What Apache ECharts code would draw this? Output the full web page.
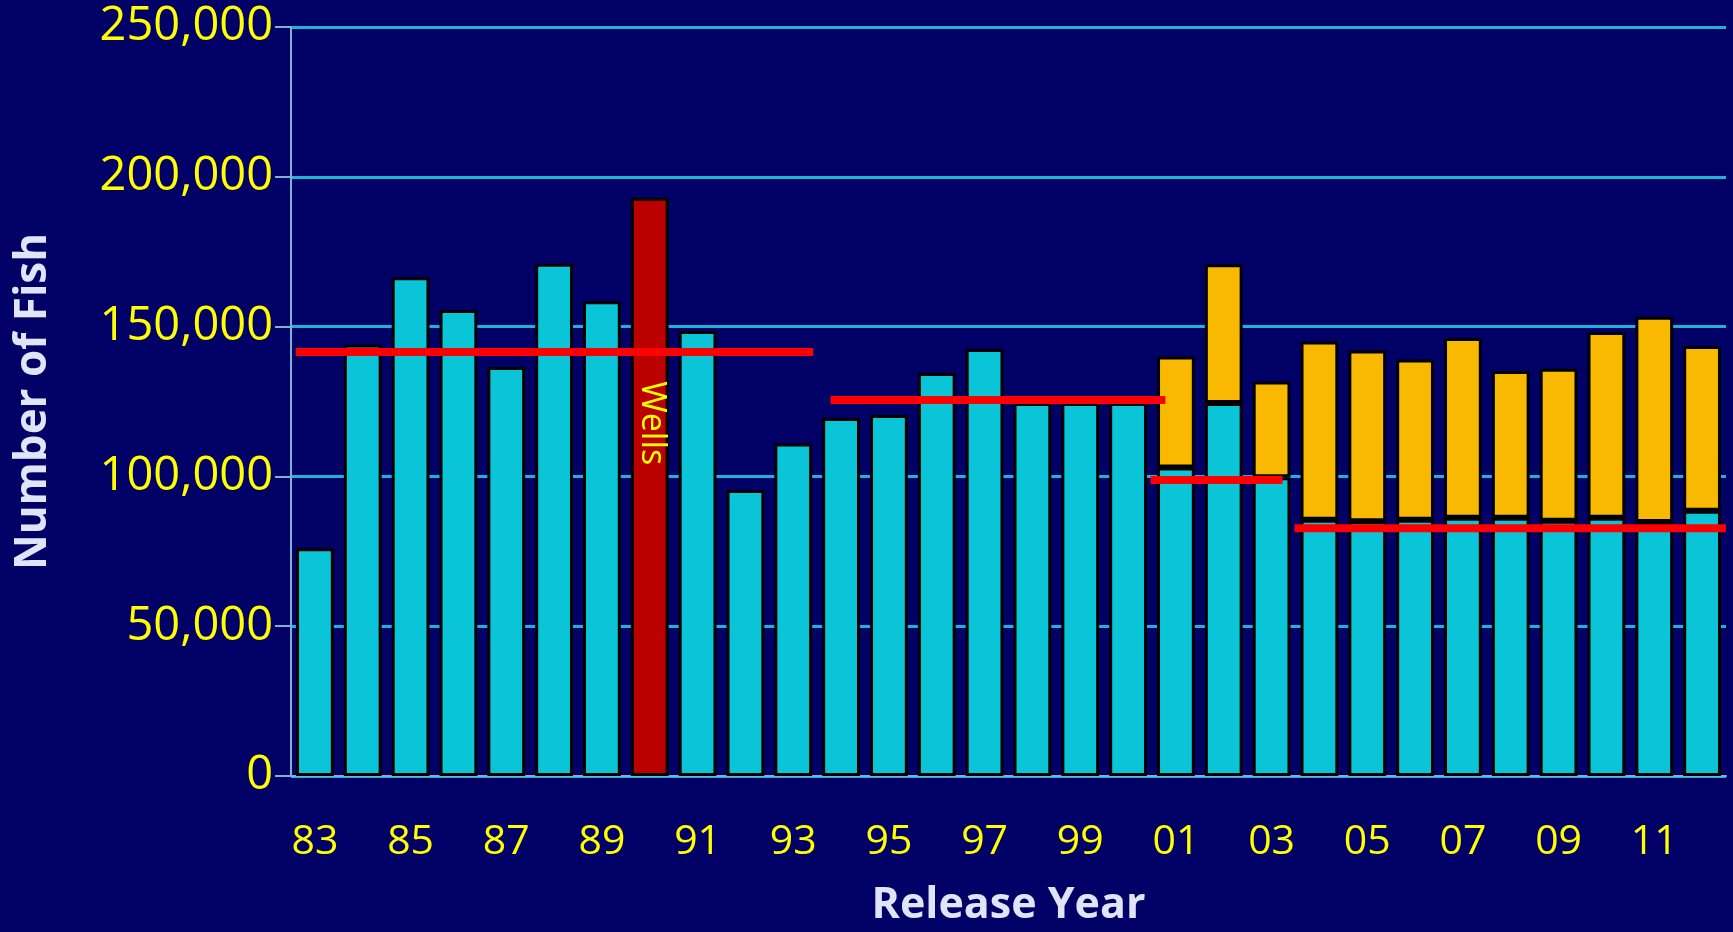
<!DOCTYPE html>
<html>
<head>
<meta charset="utf-8">
<title>Release Year</title>
<script src="https://cdn.jsdelivr.net/npm/echarts@6/dist/echarts.min.js"></script>
<style>
  html, body { margin: 0; padding: 0; background: #000066; }
  #chart { width: 1733px; height: 932px; }
</style>
</head>
<body>
<div id="chart"></div>
<script>
  // release years (two digit)
  let years = ['83', '84', '85', '86', '87', '88', '89', '90', '91', '92',
    '93', '94', '95', '96', '97', '98', '99', '00', '01', '02',
    '03', '04', '05', '06', '07', '08', '09', '10', '11', '12']
  // lower (cyan) part of each bar
  let baseFish = [76000, 144000, 166500, 155500, 136500, 171000, 158500, 193000, 148500, 95500,
    111000, 119500, 120500, 134500, 142500, 124500, 124500, 124500, 103000, 124500,
    99700, 85500, 85000, 85500, 86200, 86200, 85200, 86200, 84800, 88500]
  // upper (orange) part, only from 01
  let extraFish = ['-', '-', '-', '-', '-', '-', '-', '-', '-', '-',
    '-', '-', '-', '-', '-', '-', '-', '-', 37000, 46300,
    32000, 59500, 57000, 53500, 60000, 49000, 50700, 62000, 68500, 55000]
  // the Wells year
  let wellsIndex = 7
  let wellsText = 'Wells'
  // red average lines: value and span (in category index units)
  let avgValues = [141500, 125500, 98800, 82700]
  let avgFrom = [-0.4, 10.78, 17.47, 20.48]
  let avgTo = [10.42, 17.78, 20.23, 29.5]
  // y ticks
  let yMin = 0
  let yMax = 250000
  let yStep = 50000

  let chart = echarts.init(document.getElementById('chart'))

  let yellow = '#ffff00'
  let titleColor = '#dfe5f6'
  let font = 'Open Sans'

  let baseData = baseFish.map(function(v, i) {
    if (i === wellsIndex) {
      return {
        value: v,
        itemStyle: { color: '#bb0000' },
        label: {
          show: true,
          formatter: wellsText,
          position: ['55%', '39%'],
          rotate: -90,
          align: 'center',
          verticalAlign: 'middle',
          color: yellow,
          fontFamily: font,
          fontSize: 34
        }
      }
    }
    return v
  })

  // 平均线
  let avgSeries = avgValues.map(function(v, i) {
    return {
      type: 'line',
      xAxisIndex: 1,
      symbol: 'none',
      silent: true,
      z: 5,
      lineStyle: { color: '#ff0000', width: 8, cap: 'butt' },
      data: [[avgFrom[i], v], [avgTo[i], v]]
    }
  })

  let option = {
    backgroundColor: '#000066',
    animation: false,
    grid: {
      left: 291,
      right: 7,
      top: 27,
      bottom: 155
    },
    xAxis: [{
      type: 'category',
      data: years,
      name: 'Release Year',
      nameLocation: 'middle',
      nameGap: 108,
      nameTextStyle: {
        color: titleColor,
        fontFamily: font,
        fontWeight: 'bold',
        fontSize: 43
      },
      axisLine: { lineStyle: { color: '#7fb0d0', width: 2 } },
      axisTick: { show: false },
      axisLabel: {
        interval: 1,
        margin: 46,
        color: yellow,
        fontFamily: font,
        fontSize: 41
      }
    }, {
      type: 'value',
      min: -0.5,
      max: 29.5,
      show: false
    }],
    yAxis: {
      type: 'value',
      min: yMin,
      max: yMax,
      interval: yStep,
      name: 'Number of Fish',
      nameLocation: 'middle',
      nameGap: 236,
      nameTextStyle: {
        color: titleColor,
        fontFamily: font,
        fontWeight: 'bold',
        fontSize: 44
      },
      axisLine: { show: true, onZero: false, lineStyle: { color: '#7fb0d0', width: 2 } },
      axisTick: { show: true, inside: false, length: 16, lineStyle: { color: '#7fb0d0', width: 2 } },
      axisLabel: {
        margin: 18,
        color: yellow,
        fontFamily: font,
        fontSize: 47,
        formatter: function(v) {
          return v.toLocaleString('en-US')
        }
      },
      splitLine: { lineStyle: { color: '#1cb4d6', width: 3 } }
    },
    series: [{
      type: 'bar',
      stack: 'fish',
      barCategoryGap: '21%',
      itemStyle: { color: '#0ac4d8', borderColor: '#000000', borderWidth: 3 },
      data: baseData
    }, {
      type: 'bar',
      stack: 'fish',
      itemStyle: { color: '#f8b900', borderColor: '#000000', borderWidth: 3 },
      data: extraFish
    }].concat(avgSeries)
  }

  chart.setOption(option)
  window.onresize = chart.resize
</script>
</body>
</html>
